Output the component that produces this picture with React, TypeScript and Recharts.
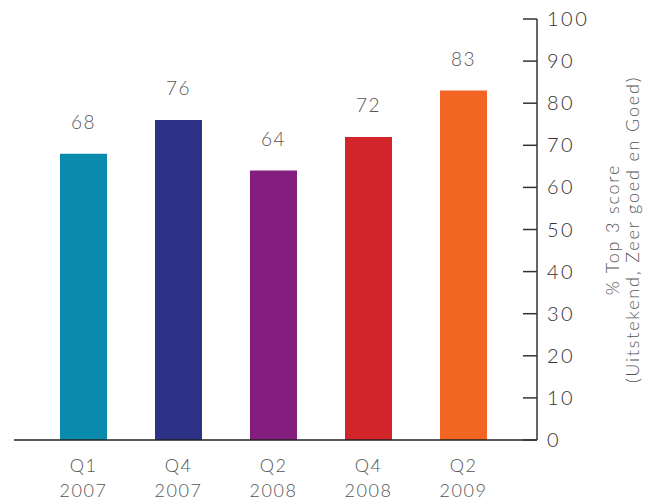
import { BarChart, Bar, XAxis, YAxis, Cell, LabelList } from 'recharts'

const quarters = ['Q1', 'Q4', 'Q2', 'Q4', 'Q2']
const years = ['2007', '2007', '2008', '2008', '2009']
const scores = [68, 76, 64, 72, 83]
const barColors = ['#0a8aad', '#2e3287', '#841e7e', '#d1242b', '#f26522']
const yTicks = [0, 10, 20, 30, 40, 50, 60, 70, 80, 90, 100]
const yLabelLines = ['% Top 3 score', '(Uitstekend, Zeer goed en Goed)']

const data = scores.map((score, i) => ({
  name: `${quarters[i]} ${years[i]}`,
  quarter: quarters[i],
  year: years[i],
  score,
}))

const FONT = 'Lato, "Open Sans", sans-serif'
const TEXT = '#555'

function XTick(props: any) {
  const { x, y, index } = props
  return (
    <text x={x} y={y} textAnchor="middle" fontFamily={FONT} fontSize={18} fill={TEXT} fontWeight={300} letterSpacing={1.5}>
      <tspan x={x} dy={24}>{quarters[index]}</tspan>
      <tspan x={x} dy={25}>{years[index]}</tspan>
    </text>
  )
}

function YTick(props: any) {
  const { x, y, payload } = props
  // x is tick text position: axis + tickSize(10)
  const axisX = x - 10
  return (
    <g>
      <line x1={axisX - 14} x2={axisX} y1={y} y2={y} stroke="#333" strokeWidth={1.5} />
      <text x={x} y={y} dy={7} textAnchor="start" fontFamily={FONT} fontSize={20} fill="#333" fontWeight={300} letterSpacing={2.5}>
        {payload.value}
      </text>
    </g>
  )
}

function YLabel(props: any) {
  const { viewBox } = props
  const cy = viewBox.y + viewBox.height / 2
  return (
    <g>
      {yLabelLines.map((line, i) => {
        const cx = viewBox.x + 76 + i * 20
        return (
          <text
            key={i}
            x={cx}
            y={cy}
            dy={6}
            textAnchor="middle"
            transform={`rotate(-90 ${cx} ${cy})`}
            fontFamily={FONT}
            fontSize={18}
            fontWeight={300}
            fill={TEXT}
            letterSpacing={1.8}
          >
            {line}
          </text>
        )
      })}
    </g>
  )
}

export default function App() {
  return (
    <div style={{ position: 'absolute', left: 0, top: 0, background: '#fff' }}>
      <BarChart width={646} height={502} data={data} margin={{ top: 19, right: 0, left: 14, bottom: 0 }}>
        <XAxis
          dataKey="name"
          height={62}
          axisLine={{ stroke: '#222', strokeWidth: 1.5 }}
          tickLine={false}
          tick={<XTick />}
          interval={0}
          padding={{ left: 22, right: 26 }}
        />
        <YAxis
          orientation="right"
          width={109}
          domain={[0, 100]}
          ticks={yTicks}
          interval={0}
          tickSize={10}
          tickMargin={0}
          tickLine={false}
          axisLine={{ stroke: '#333', strokeWidth: 1.5 }}
          tick={<YTick />}
          label={{ content: <YLabel /> }}
        />
        <Bar dataKey="score" barSize={47} isAnimationActive={false}>
          {data.map((d, i) => (
            <Cell key={d.name} fill={barColors[i]} />
          ))}
          <LabelList
            dataKey="score"
            position="top"
            offset={25}
            fontFamily={FONT}
            fontSize={19}
            fontWeight={300}
            fill={TEXT}
            letterSpacing={1.5}
          />
        </Bar>
      </BarChart>
    </div>
  )
}
